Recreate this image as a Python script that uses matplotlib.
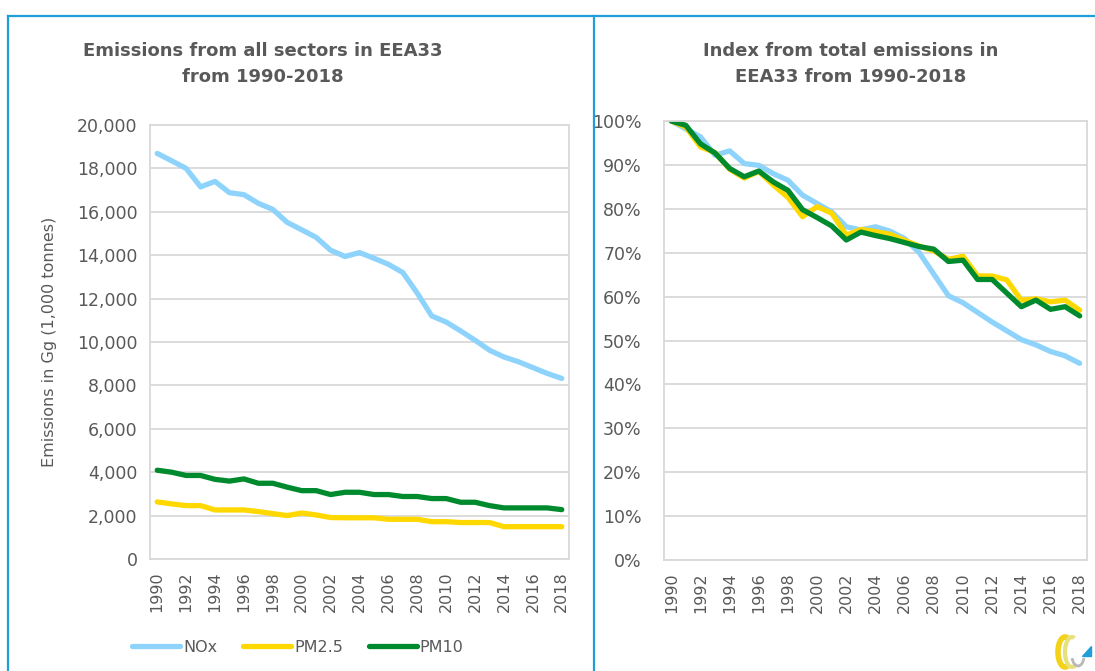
import matplotlib
matplotlib.use("Agg")
import matplotlib.pyplot as plt
from matplotlib.lines import Line2D
from matplotlib.patches import Arc, Polygon
from matplotlib.ticker import FuncFormatter

# ---------------- data ----------------
years = list(range(1990, 2019))
nox = [18690, 18350, 18000, 17150, 17400, 16880, 16790, 16390, 16110, 15510,
       15170, 14820, 14230, 13940, 14120, 13860, 13580, 13200, 12250, 11200,
       10920, 10510, 10080, 9620, 9310, 9090, 8820, 8550, 8320]
pm25 = [2630, 2540, 2460, 2460, 2260, 2260, 2260, 2185, 2090, 2000,
        2120, 2030, 1910, 1900, 1900, 1900, 1830, 1830, 1830, 1720,
        1720, 1680, 1680, 1680, 1490, 1490, 1490, 1490, 1490]
pm10 = [4090, 4000, 3850, 3850, 3670, 3590, 3690, 3490, 3490, 3310,
        3150, 3150, 2970, 3075, 3075, 2970, 2970, 2880, 2880, 2785,
        2785, 2615, 2615, 2460, 2355, 2355, 2355, 2355, 2275]

nox_idx = [100, 98.2, 96.4, 92.2, 93.2, 90.3, 89.9, 88.0, 86.5, 83.1,
           81.2, 79.3, 75.9, 75.2, 75.9, 74.9, 73.2, 70.0, 65.1, 60.2,
           58.6, 56.4, 54.2, 52.2, 50.2, 49.0, 47.5, 46.5, 44.8]
pm25_idx = [100, 98.6, 94.1, 92.8, 89.0, 87.0, 88.5, 85.4, 82.6, 78.2,
            80.5, 79.0, 74.0, 75.3, 74.8, 74.2, 72.8, 71.5, 70.4, 68.5,
            69.2, 64.7, 64.7, 63.8, 59.2, 59.5, 58.8, 59.2, 56.9]
pm10_idx = [100, 99.0, 94.8, 92.7, 89.2, 87.3, 88.6, 86.1, 84.2, 79.8,
            78.0, 76.1, 72.9, 74.7, 73.9, 73.2, 72.3, 71.4, 70.8, 68.0,
            68.3, 63.9, 63.9, 60.8, 57.7, 59.2, 57.1, 57.7, 55.6]

series_names = ["NOx", "PM2.5", "PM10"]
left_title = "Emissions from all sectors in EEA33\nfrom 1990-2018"
right_title = "Index from total emissions in\nEEA33 from 1990-2018"
y_label = "Emissions in Gg (1,000 tonnes)"

# ---------------- style ----------------
colors = ["#8ED3FC", "#FFD800", "#008A2E"]
txt = "#595959"
grid_c = "#D9D9D9"
border_c = "#1E9FDA"
lw = 3.8

W, H = 1095, 671
fig = plt.figure(figsize=(W / 100, H / 100), dpi=100)
fig.patch.set_facecolor("white")


def px_axes(x0, y0, x1, y1):
    # pixel box (top-left origin) -> figure fraction
    return fig.add_axes([x0 / W, 1 - y1 / H, (x1 - x0) / W, (y1 - y0) / H])


def style(ax, ticks, fmt):
    xs = list(range(len(years)))
    ax.set_xlim(-0.5, len(years) - 0.5)
    ax.set_xticks(xs[::2])
    ax.set_xticklabels([str(y) for y in years[::2]], rotation=90,
                       fontsize=11.5, color=txt, family="DejaVu Sans")
    ax.set_yticks(ticks)
    ax.yaxis.set_major_formatter(FuncFormatter(fmt))
    for lab in ax.get_yticklabels():
        lab.set_fontsize(12.5)
        lab.set_color(txt)
    ax.tick_params(length=0)
    ax.tick_params(axis="x", pad=9)
    ax.grid(axis="y", color=grid_c, lw=1.3)
    ax.set_axisbelow(True)
    for s in ax.spines.values():
        s.set_color(grid_c)
        s.set_linewidth(1.3)


xs = list(range(len(years)))

# left chart
ax1 = px_axes(150, 125, 569, 559)
for vals, c, n in zip([nox, pm25, pm10], colors, series_names):
    ax1.plot(xs, vals, color=c, lw=lw, solid_capstyle="round", label=n)
ax1.set_ylim(0, 20000)
style(ax1, list(range(0, 20001, 2000)), lambda v, p: f"{int(v):,}")
ax1.tick_params(axis="y", pad=9)
ax1.set_ylabel(y_label, fontsize=11.5, color=txt, labelpad=14)

# right chart
ax2 = px_axes(664, 121, 1087, 560)
for vals, c, n in zip([nox_idx, pm25_idx, pm10_idx], colors, series_names):
    ax2.plot(xs, vals, color=c, lw=lw, solid_capstyle="round")
ax2.set_ylim(0, 100)
style(ax2, list(range(0, 101, 10)), lambda v, p: f"{int(v)}%")
ax2.tick_params(axis="y", pad=16)

# titles
fig.text(263 / W, 1 - 64 / H, left_title, ha="center", va="center",
         fontsize=13, fontweight="bold", color=txt, linespacing=1.6)
fig.text(851 / W, 1 - 64 / H, right_title, ha="center", va="center",
         fontsize=13, fontweight="bold", color=txt, linespacing=1.6)

# legend
fig.legend(handles=ax1.get_lines(), labels=series_names, loc="center",
           bbox_to_anchor=(298 / W, 1 - 647 / H), ncol=3, frameon=False,
           fontsize=11.5, labelcolor=txt, handlelength=3.0, handletextpad=0.2,
           columnspacing=1.6)

# blue frame
for (xa, ya, xb, yb) in [(8, 16, W, 16), (8, 16, 8, H), (594, 16, 594, H)]:
    fig.add_artist(Line2D([xa / W, xb / W], [1 - ya / H, 1 - yb / H],
                          color=border_c, lw=1.6, transform=fig.transFigure))

# small logo
lax = px_axes(1048, 632, 1093, 670)
lax.set_xlim(0, 45)
lax.set_ylim(0, 38)
lax.axis("off")
lax.add_patch(Arc((17, 18), 14, 30, theta1=80, theta2=280, color="#F2D21B", lw=4))
lax.add_patch(Arc((24, 18), 14, 30, theta1=80, theta2=290, color="#E8E07A", lw=3))
lax.add_patch(Arc((30, 14), 12, 20, theta1=200, theta2=340, color="#B8B8B8", lw=2))
lax.add_patch(Polygon([[34, 14], [43, 14], [43, 24]], closed=True, color="#1E9FDA"))

fig.savefig("out.png", dpi=100)
